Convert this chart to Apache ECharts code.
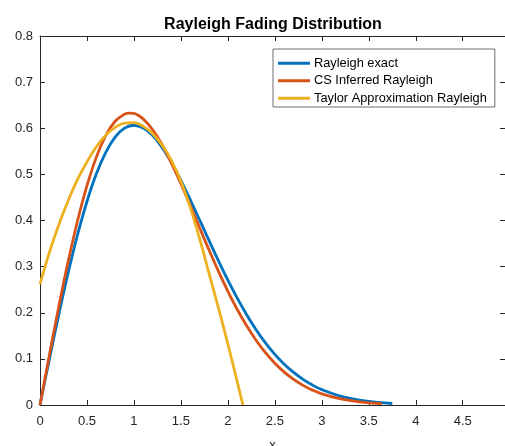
<!DOCTYPE html>
<html>
<head>
<meta charset="utf-8">
<script src="https://cdn.jsdelivr.net/npm/echarts@6/dist/echarts.min.js"></script>
<style>
html,body{margin:0;padding:0;background:#fff;}
#c{width:505px;height:446px;}
</style>
</head>
<body>
<div id="c"></div>
<script>
const titleText = 'Rayleigh Fading Distribution';
const xName = 'x';
const seriesNames = ['Rayleigh exact', 'CS Inferred Rayleigh', 'Taylor Approximation Rayleigh'];

const xExact = [0,0.1,0.2,0.3,0.4,0.5,0.6,0.7,0.8,0.9,1.0,1.1,1.2,1.3,1.4,1.5,1.6,1.7,1.8,1.9,2.0,2.1,2.2,2.3,2.4,2.5,2.6,2.7,2.8,2.9,3.0,3.2,3.4,3.6,3.75];
const yExact = [0,0.0995,0.196,0.2868,0.3692,0.4412,0.5012,0.5479,0.5809,0.6003,0.6065,0.6003,0.5841,0.5585,0.5254,0.4870,0.4448,0.4007,0.3562,0.3125,0.2707,0.2316,0.1956,0.1633,0.1347,0.1098,0.0885,0.0706,0.0555,0.0432,0.0333,0.0191,0.0105,0.0055,0.0033];

const xCS = [0,0.1,0.2,0.3,0.4,0.5,0.6,0.7,0.8,0.9,0.95,1.0,1.1,1.2,1.3,1.4,1.5,1.6,1.7,1.8,1.9,2.0,2.1,2.2,2.3,2.4,2.5,2.6,2.7,2.8,2.9,3.0,3.2,3.4,3.64];
const yCS = [0,0.1084,0.2132,0.3113,0.3994,0.4754,0.5374,0.5842,0.6151,0.6306,0.6330,0.6322,0.6198,0.5964,0.5644,0.5240,0.4797,0.4322,0.3836,0.3357,0.2896,0.2465,0.2071,0.1716,0.1404,0.1134,0.0905,0.0713,0.0555,0.0426,0.0323,0.0242,0.0132,0.0068,0.0029];

const xTaylor = [0,0.1,0.2,0.3,0.4,0.5,0.6,0.7,0.8,0.9,1.0,1.1,1.2,1.3,1.4,1.5,1.6,1.7,1.8,1.9,2.0,2.1,2.16];
const yTaylor = [0.262,0.331,0.391,0.443,0.489,0.527,0.560,0.585,0.602,0.611,0.612,0.604,0.588,0.563,0.530,0.485,0.428,0.360,0.285,0.210,0.132,0.050,0.0];

const xTicksMin = 0, xTicksInterval = 0.5, xMax = 4.95;
const yMin = 0, yMax = 0.8, yInterval = 0.1;

const colors = ['#0072BD', '#D95319', '#EDB120'];
const axisColor = '#262626';
const font = 'Arial, "Liberation Sans", Helvetica, sans-serif';

function zip(xs, ys){ return xs.map((x,i)=>[x, ys[i]]); }
const datasets = [zip(xExact,yExact), zip(xCS,yCS), zip(xTaylor,yTaylor)];

const chart = echarts.init(document.getElementById('c'), null, {renderer:'canvas'});
function axLine(){ return {show:true, onZero:false, lineStyle:{color:axisColor, width:1}}; }
function axTick(){ return {show:true, inside:true, length:5, lineStyle:{color:axisColor, width:1}}; }
chart.setOption({
  backgroundColor:'#fff',
  animation:false,
  title:{text:titleText, left:268, textAlign:'center', top:12,
    textStyle:{fontFamily:font, fontSize:16, fontWeight:'bold', color:'#000'}},
  grid:{left:40, right:0, top:36, bottom:41, containLabel:false, outerBoundsMode:'none'},
  legend:{
    orient:'vertical', left:273, top:49,
    data:seriesNames, icon:'rect',
    backgroundColor:'#fff', borderColor:'#6e6e6e', borderWidth:1, borderRadius:0,
    padding:[5.5,8,0,5], itemWidth:32, itemHeight:3, itemGap:0,
    textStyle:{fontFamily:font, fontSize:12.8, color:'#000', lineHeight:17.5, padding:[0,0,0,-1]}
  },
  xAxis:[
    {type:'value', min:xTicksMin, max:xMax, interval:xTicksInterval, position:'bottom',
     name:xName, nameLocation:'middle', nameGap:34,
     nameTextStyle:{fontFamily:font, fontSize:13, color:axisColor},
     axisLine:axLine(), axisTick:axTick(), splitLine:{show:false},
     axisLabel:{fontFamily:font, fontSize:13, color:axisColor, margin:10, showMaxLabel:false}},
    {type:'value', min:xTicksMin, max:xMax, interval:xTicksInterval, position:'top',
     axisLine:axLine(), axisTick:axTick(), splitLine:{show:false}, axisLabel:{show:false}}
  ],
  yAxis:[
    {type:'value', min:yMin, max:yMax, interval:yInterval, position:'left',
     axisLine:axLine(), axisTick:axTick(), splitLine:{show:false},
     axisLabel:{fontFamily:font, fontSize:13, color:axisColor, margin:7,
       formatter:v=>String(Math.round(v*10)/10)}},
    {type:'value', min:yMin, max:yMax, interval:yInterval, position:'right',
     axisLine:axLine(), axisTick:axTick(), splitLine:{show:false}, axisLabel:{show:false}}
  ],
  series: seriesNames.map((n,i)=>({
    name:n, type:'line', data:datasets[i], smooth:0.4, showSymbol:false, symbol:'none',
    color:colors[i], itemStyle:{color:colors[i]},
    lineStyle:{color:colors[i], width:2.8}, xAxisIndex:0, yAxisIndex:0, z:2+i
  }))
});
</script>
</body>
</html>
